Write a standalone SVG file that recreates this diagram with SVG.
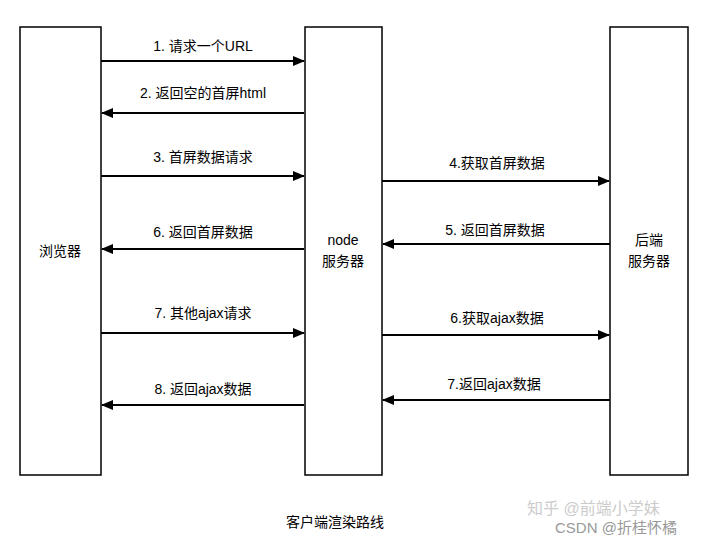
<svg xmlns="http://www.w3.org/2000/svg" width="720" height="544" viewBox="0 0 720 544">
<style>
.box{fill:#fff;stroke:#000;stroke-width:1.5}
.ln{stroke:#000;stroke-width:2;fill:none;marker-end:url(#ah)}
text{font-family:"Liberation Sans","Noto Sans CJK SC",sans-serif;font-size:14px;fill:#000;text-anchor:middle}
.wm{fill:#ccc;font-size:16px;text-anchor:start}
.wm2{fill:#999;font-size:15px;text-anchor:start}
</style>
<defs><marker id="ah" markerWidth="12" markerHeight="10" refX="11" refY="5" orient="auto" markerUnits="userSpaceOnUse"><path d="M0,0L12,5L0,10Z" fill="#000"/></marker></defs>
<rect width="720" height="544" fill="#fff"/>
<g id="browser"><rect class="box" x="20" y="27" width="81" height="448"/><text x="60" y="256">浏览器</text></g>
<g id="node"><rect class="box" x="305" y="27" width="77" height="448"/><text x="343" y="245">node</text><text x="343" y="266">服务器</text></g>
<g id="backend"><rect class="box" x="610" y="27" width="78" height="448"/><text x="649" y="245">后端</text><text x="649" y="266">服务器</text></g>
<g id="connectors">
<line class="ln" x1="101" y1="61" x2="304" y2="61"/>
<line class="ln" x1="304" y1="113" x2="102" y2="113"/>
<line class="ln" x1="101" y1="176" x2="304" y2="176"/>
<line class="ln" x1="382" y1="181" x2="609" y2="181"/>
<line class="ln" x1="304" y1="249" x2="102" y2="249"/>
<line class="ln" x1="610" y1="244" x2="383" y2="244"/>
<line class="ln" x1="101" y1="333" x2="304" y2="333"/>
<line class="ln" x1="382" y1="335" x2="609" y2="335"/>
<line class="ln" x1="304" y1="405" x2="102" y2="405"/>
<line class="ln" x1="610" y1="400" x2="383" y2="400"/>
</g>
<g id="labels">
<text x="203" y="51">1. 请求一个URL</text>
<text x="203" y="98">2. 返回空的首屏html</text>
<text x="203" y="162">3. 首屏数据请求</text>
<text x="497" y="168">4.获取首屏数据</text>
<text x="203" y="237">6. 返回首屏数据</text>
<text x="495" y="235">5. 返回首屏数据</text>
<text x="203" y="318">7. 其他ajax请求</text>
<text x="497" y="323">6.获取ajax数据</text>
<text x="203" y="394">8. 返回ajax数据</text>
<text x="494" y="389">7.返回ajax数据</text>
<text x="335" y="527">客户端渲染路线</text>
</g>
<text class="wm" x="527" y="514">知乎 @前端小学妹</text>
<text class="wm2" x="555" y="533">CSDN @折桂怀橘</text>
</svg>
